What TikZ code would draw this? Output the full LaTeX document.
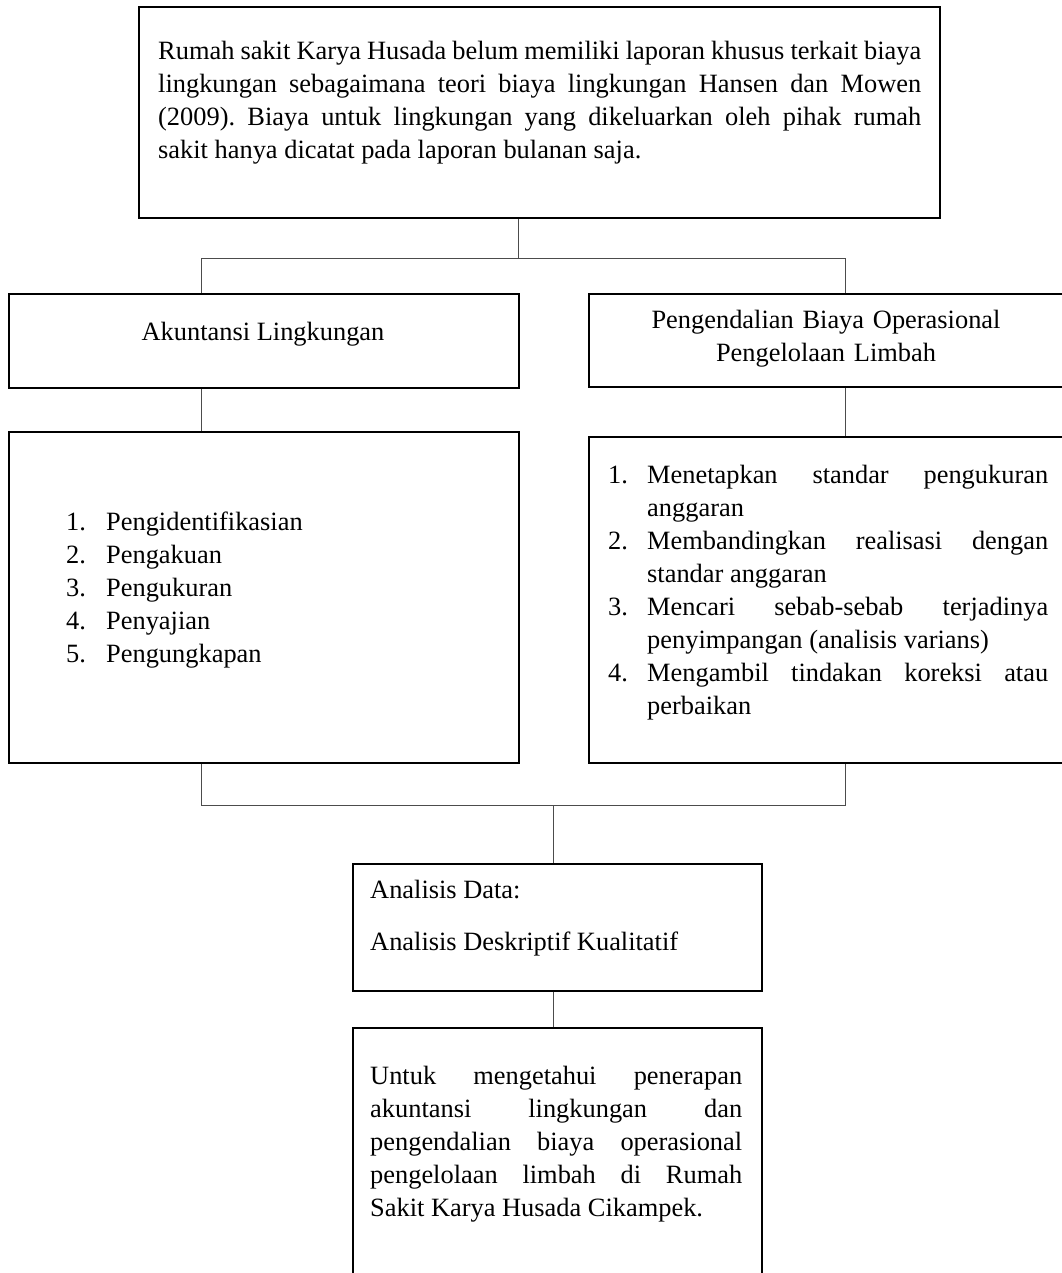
\documentclass[tikz,border=0pt]{standalone}
\usepackage{fontspec}
\setmainfont{Liberation Serif}
\begin{document}
\frenchspacing
\begin{tikzpicture}[x=1pt,y=-1pt,
  box/.style={draw=black, line width=1.8pt, inner sep=0pt, anchor=north west},
  conn/.style={draw=black!70, line width=1pt},
  txt/.style={inner sep=0pt, anchor=base west, font=\fontsize{26.4pt}{33pt}\selectfont},
  para/.style={txt, align=justify, execute at begin node={\frenchspacing\hyphenpenalty=10000\exhyphenpenalty=10000\tolerance=10000}},
]
\useasboundingbox (0,0) rectangle (1061,1273);
\fill[white] (0,0) rectangle (1061,1273);

% boxes
\node[box, minimum width=801pt, minimum height=211pt] (top) at (138,6) {};
\node[box, minimum width=510pt, minimum height=94pt] (akl) at (8,293) {};
\node[box, minimum width=478pt, minimum height=93pt] (pbo) at (588,293) {};
\node[box, minimum width=510pt, minimum height=331pt] (ll) at (8,431) {};
\node[box, minimum width=478pt, minimum height=326pt] (rl) at (588,436) {};
\node[box, minimum width=409pt, minimum height=127pt] (ad) at (352,863) {};
\node[box, minimum width=409pt, minimum height=262pt] (tj) at (352,1027) {};

% texts
\node[para, text width=763pt] (toptext) at (158,60) {Rumah sakit Karya Husada belum memiliki laporan khusus terkait biaya\linebreak lingkungan sebagaimana teori biaya lingkungan Hansen dan Mowen\linebreak (2009). Biaya untuk lingkungan yang dikeluarkan oleh pihak rumah\linebreak sakit hanya dicatat pada laporan bulanan saja.};

\node[txt, anchor=base] (akltext) at (263,340) {Akuntansi Lingkungan};
\node[txt, anchor=base, text width=460pt, align=center] (pbotext) at (826,328) {Pengendalian Biaya Operasional\\Pengelolaan Limbah};

\node[txt, text width=400pt, align=left] (lltext) at (66,530) {\makebox[40pt][l]{1.}Pengidentifikasian\\\makebox[40pt][l]{2.}Pengakuan\\\makebox[40pt][l]{3.}Pengukuran\\\makebox[40pt][l]{4.}Penyajian\\\makebox[40pt][l]{5.}Pengungkapan};

\node[para, text width=440pt] (rltext) at (608,483) {%
\hangindent=39pt\hangafter=1\makebox[39pt][l]{1.}Menetapkan standar pengukuran\linebreak anggaran\par
\hangindent=39pt\hangafter=1\makebox[39pt][l]{2.}Membandingkan realisasi dengan\linebreak standar anggaran\par
\hangindent=39pt\hangafter=1\makebox[39pt][l]{3.}Mencari sebab-sebab terjadinya\linebreak penyimpangan (analisis varians)\par
\hangindent=39pt\hangafter=1\makebox[39pt][l]{4.}Mengambil tindakan koreksi atau\linebreak perbaikan\par};

\node[txt] (adtext1) at (370,898) {Analisis Data:};
\node[txt] (adtext2) at (370,950) {Analisis Deskriptif Kualitatif};

\node[para, text width=372pt] (tjtext) at (370,1084) {Untuk mengetahui penerapan\linebreak akuntansi lingkungan dan\linebreak pengendalian biaya operasional\linebreak pengelolaan limbah di Rumah\linebreak Sakit Karya Husada Cikampek.};

% connectors
\coordinate (cl) at (201,0);
\coordinate (cr) at (845,0);
\coordinate (j1) at (518,258);
\coordinate (j2) at (553,805);
\draw[conn] (top.south -| j1) -- (j1);
\draw[conn] (akl.north -| cl) -- (cl |- j1) -- (cr |- j1) -- (pbo.north -| cr);
\draw[conn] (akl.south -| cl) -- (ll.north -| cl);
\draw[conn] (pbo.south -| cr) -- (rl.north -| cr);
\draw[conn] (ll.south -| cl) -- (cl |- j2) -- (cr |- j2) -- (rl.south -| cr);
\draw[conn] (j2) -- (ad.north -| j2);
\draw[conn] (ad.south -| j2) -- (tj.north -| j2);
\end{tikzpicture}
\end{document}
